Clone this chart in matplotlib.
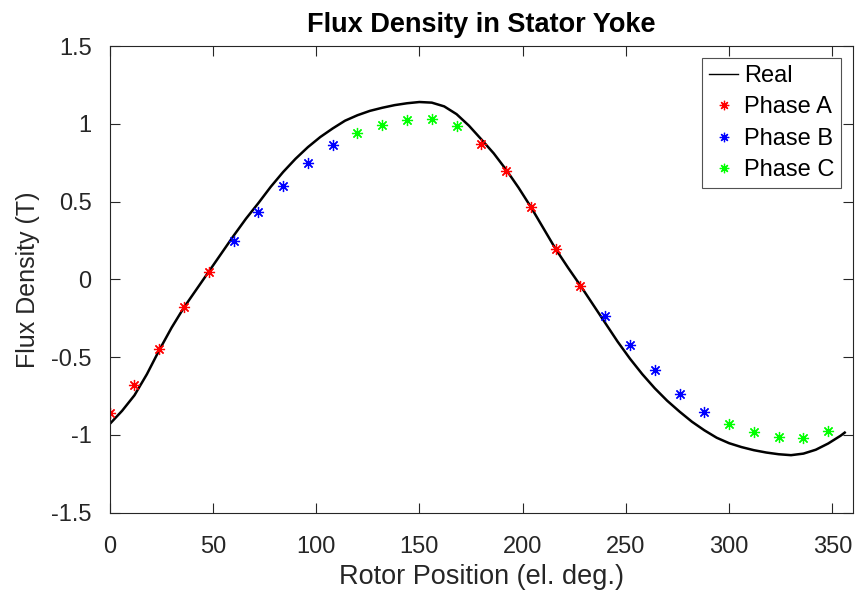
import numpy as np
import matplotlib
matplotlib.use("Agg")
import matplotlib.pyplot as plt

plt.rcParams['font.family'] = ['Liberation Sans', 'DejaVu Sans']

# Continuous field solution around one electrical period
real_pos = [0, 6, 12, 18, 24, 30, 36, 42, 48, 54, 60, 66, 72, 78, 84, 90, 96,
            102, 108, 114, 120, 126, 132, 138, 144, 150, 156, 162, 168, 174,
            180, 186, 192, 198, 204, 210, 216, 222, 228, 234, 240, 246, 252,
            258, 264, 270, 276, 282, 288, 294, 300, 306, 312, 318, 324, 330,
            336, 342, 348, 354, 356]
real_flux = [-0.93, -0.845, -0.745, -0.61, -0.455, -0.31, -0.18, -0.065, 0.05,
             0.165, 0.28, 0.39, 0.49, 0.595, 0.69, 0.775, 0.85, 0.915, 0.97,
             1.02, 1.055, 1.083, 1.103, 1.12, 1.132, 1.14, 1.136, 1.112, 1.062,
             0.988, 0.90, 0.81, 0.705, 0.59, 0.465, 0.33, 0.195, 0.075, -0.04,
             -0.16, -0.28, -0.40, -0.51, -0.61, -0.70, -0.78, -0.85, -0.915,
             -0.97, -1.018, -1.053, -1.078, -1.098, -1.113, -1.124, -1.13, -1.12,
             -1.095, -1.055, -1.005, -0.985]

# Sampled yoke flux per phase
phase_a_pos = [0, 12, 24, 36, 48, 180, 192, 204, 216, 228]
phase_a_flux = [-0.86, -0.68, -0.45, -0.18, 0.045, 0.87, 0.695, 0.465, 0.195, -0.04]
phase_b_pos = [60, 72, 84, 96, 108, 240, 252, 264, 276, 288]
phase_b_flux = [0.246, 0.43, 0.60, 0.749, 0.861, -0.233, -0.422, -0.585, -0.735, -0.855]
phase_c_pos = [120, 132, 144, 156, 168, 300, 312, 324, 336, 348]
phase_c_flux = [0.942, 0.994, 1.024, 1.03, 0.987, -0.93, -0.979, -1.013, -1.022, -0.975]

x_ticks = [0, 50, 100, 150, 200, 250, 300, 350]
y_ticks = [-1.5, -1, -0.5, 0, 0.5, 1, 1.5]
y_tick_labels = ['-1.5', '-1', '-0.5', '0', '0.5', '1', '1.5']

axis_color = '#262626'
fig = plt.figure(figsize=(8.57, 6.03), dpi=100)
ax = fig.add_axes([0.128, 0.1497, 0.8673, 0.774])

ax.plot(real_pos, real_flux, color='black', lw=1.8, label='Real')
star = (8, 2, 0)
ax.plot(phase_a_pos, phase_a_flux, ls='none', marker=star, ms=8, mew=0.9,
        color='#ff0000', label='Phase A')
ax.plot(phase_b_pos, phase_b_flux, ls='none', marker=star, ms=8, mew=0.9,
        color='#0000ff', label='Phase B')
ax.plot(phase_c_pos, phase_c_flux, ls='none', marker=star, ms=8, mew=0.9,
        color='#00ff00', label='Phase C')

ax.set_xlim(0, 360)
ax.set_ylim(-1.5, 1.5)
ax.set_xticks(x_ticks)
ax.set_yticks(y_ticks)
ax.set_yticklabels(y_tick_labels)

for side in ax.spines.values():
    side.set_color(axis_color)
    side.set_linewidth(0.8)
ax.tick_params(axis='both', direction='in', length=7, width=0.8,
               colors=axis_color, labelsize=17, top=True, right=True)
ax.tick_params(axis='x', pad=17)
ax.tick_params(axis='y', pad=13)

ax.set_xlabel('Rotor Position (el. deg.)', fontsize=19.5, color=axis_color, labelpad=4)
ax.set_ylabel('Flux Density (T)', fontsize=18, color=axis_color, labelpad=8)
ax.set_title('Flux Density in Stator Yoke', fontsize=19.5, fontweight='bold', pad=10)

leg = ax.legend(loc='upper right', fontsize=17, frameon=True, fancybox=False,
                edgecolor=axis_color, handlelength=1.2, handletextpad=0.25,
                borderpad=0.3, labelspacing=0.4, borderaxespad=0.5,
                markerscale=0.85)
leg.get_frame().set_linewidth(0.8)
for h in leg.get_lines():
    h.set_linewidth(1.0)

fig.savefig('out.png', dpi=100)
